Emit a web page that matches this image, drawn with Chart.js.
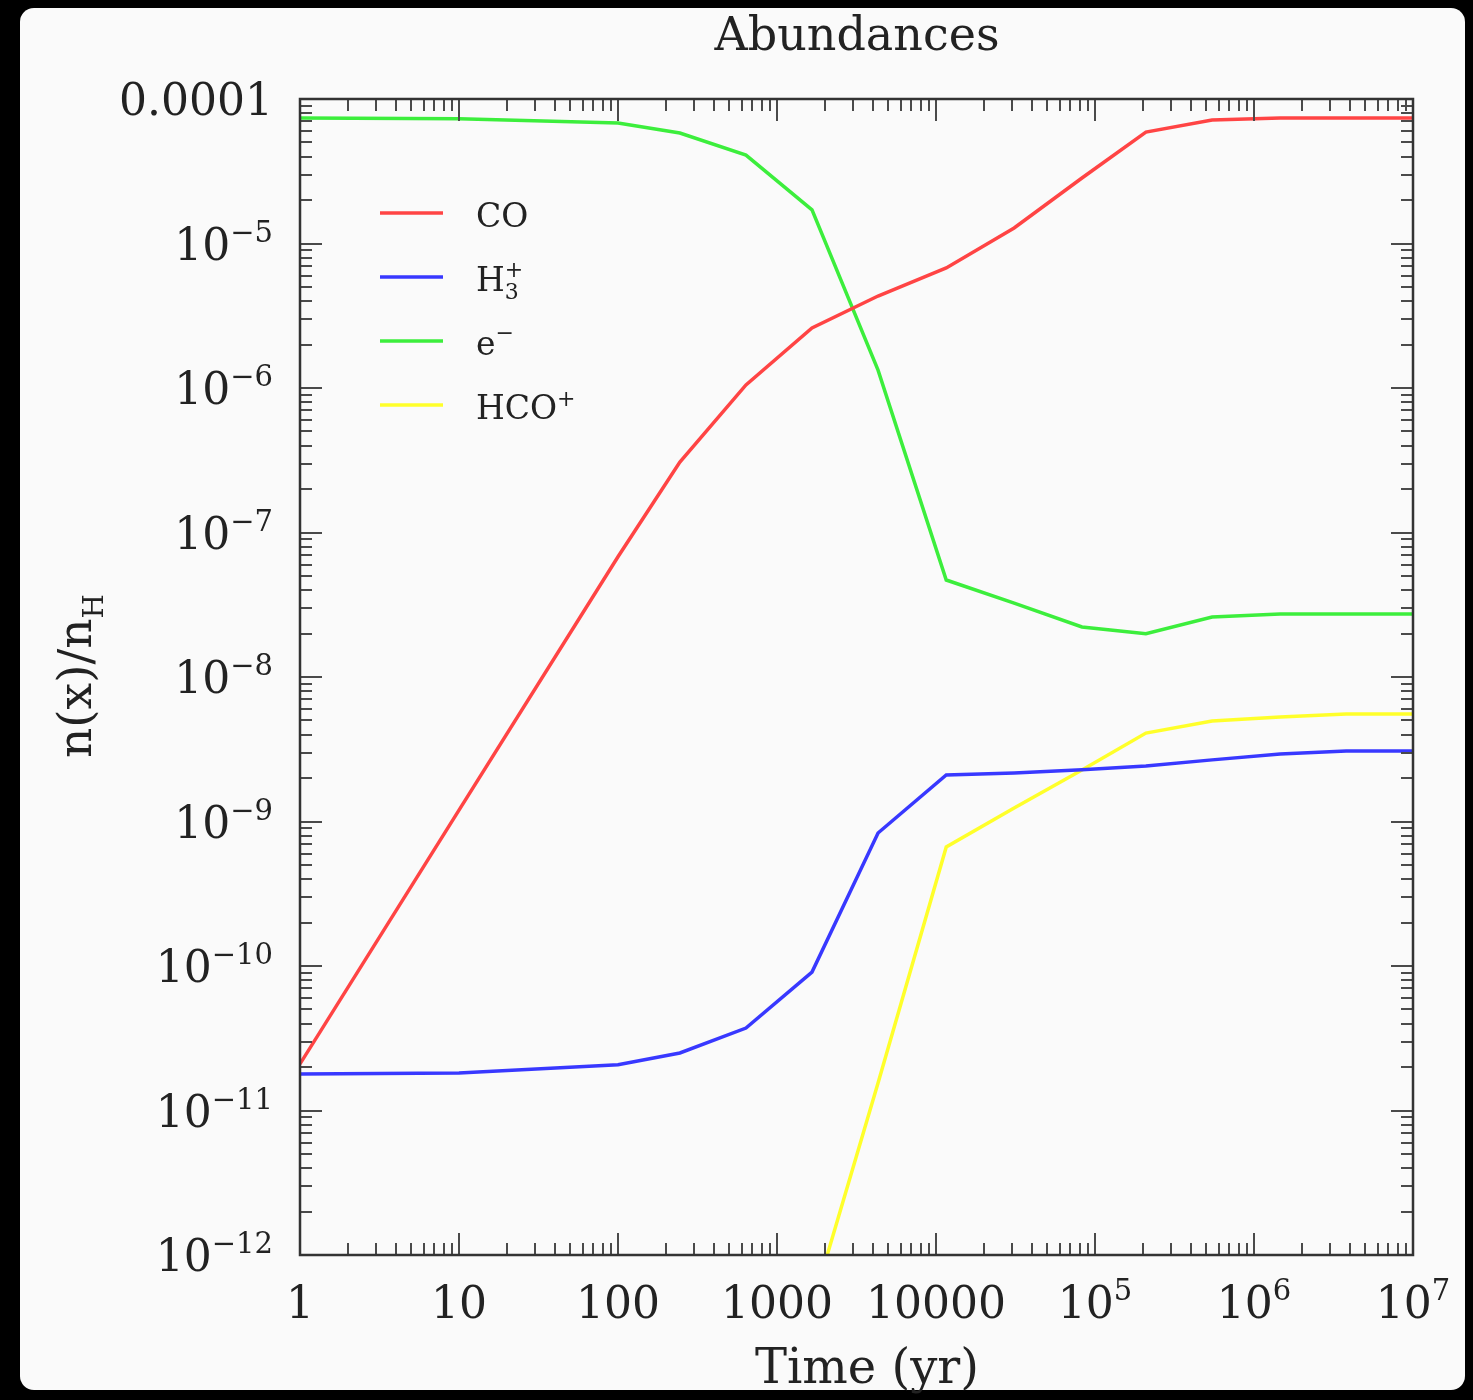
<!DOCTYPE html>
<html>
<head>
<meta charset="utf-8">
<title>Abundances</title>
<script src="https://cdn.jsdelivr.net/npm/chart.js@4.4.1/dist/chart.umd.min.js"></script>
<style>
  html, body { margin: 0; padding: 0; background: #000; }
  canvas { display: block; }
</style>
</head>
<body>
<canvas id="abundChart" width="1473" height="1400"></canvas>
<script>
// time grid (yr) and fractional abundances n(x)/nH
const times = [1, 10, 100, 245, 638, 1660, 4320, 11600, 31000, 82800, 209000, 545000, 1.46e6, 3.8e6, 1e7];
const coAbund = [2.1e-11, 1.2e-9, 6.8e-8, 3.07e-7, 1.05e-6, 2.6e-6, 4.33e-6, 6.77e-6, 1.28e-5, 2.84e-5, 5.9e-5, 7.16e-5, 7.39e-5, 7.39e-5, 7.39e-5];
const h3pAbund = [1.79e-11, 1.82e-11, 2.07e-11, 2.5e-11, 3.72e-11, 9.08e-11, 8.32e-10, 2.1e-9, 2.17e-9, 2.28e-9, 2.42e-9, 2.67e-9, 2.93e-9, 3.08e-9, 3.08e-9];
const elecAbund = [7.4e-5, 7.3e-5, 6.83e-5, 5.82e-5, 4.09e-5, 1.71e-5, 1.33e-6, 4.69e-8, 3.25e-8, 2.22e-8, 1.99e-8, 2.6e-8, 2.73e-8, 2.73e-8, 2.73e-8];
const hcopAbund = [null, null, null, null, null, 4.4e-13, 1.55e-11, 6.67e-10, 1.24e-9, 2.27e-9, 4.09e-9, 4.96e-9, 5.29e-9, 5.55e-9, 5.55e-9];

// axis tick labels: base text + superscript
const xTickValues = [1, 10, 100, 1000, 1e4, 1e5, 1e6, 1e7];
const xTickBases = ['1', '10', '100', '1000', '10000', '10', '10', '10'];
const xTickExps = ['', '', '', '', '', '5', '6', '7'];
const yTickValues = [1e-4, 1e-5, 1e-6, 1e-7, 1e-8, 1e-9, 1e-10, 1e-11, 1e-12];
const yTickBases = ['0.0001', '10', '10', '10', '10', '10', '10', '10', '10'];
const yTickExps = ['', '\u22125', '\u22126', '\u22127', '\u22128', '\u22129', '\u221210', '\u221211', '\u221212'];

const SERIF = '"DejaVu Serif", serif';

// draw a run of text pieces: {t, size, dy, hold} (hold = don't advance x)
function richWidth(ctx, parts) {
    let w = 0, held = 0;
    parts.forEach(p => {
        ctx.font = p.size + 'px ' + SERIF;
        const pw = ctx.measureText(p.t).width;
        if (p.hold) { held = pw; } else { w += Math.max(pw, held); held = 0; }
    });
    return w + held;
}
function drawRich(ctx, parts, x, y, align) {
    const w = richWidth(ctx, parts);
    let cx = align === 'right' ? x - w : align === 'center' ? x - w / 2 : x;
    let held = 0;
    ctx.textAlign = 'left';
    ctx.textBaseline = 'alphabetic';
    parts.forEach(p => {
        ctx.font = p.size + 'px ' + SERIF;
        ctx.fillText(p.t, cx, y + (p.dy || 0));
        const pw = ctx.measureText(p.t).width;
        if (p.hold) { held = pw; } else { cx += Math.max(pw, held); held = 0; }
    });
}
function supParts(base, exp) {
    const parts = [{ t: base, size: 44 }];
    if (exp) parts.push({ t: exp, size: 29, dy: -18 });
    return parts;
}

const legendItems = [
    { color: '#ff4444', parts: [{ t: 'CO', size: 33 }] },
    { color: '#3838ff', parts: [{ t: 'H', size: 33 }, { t: '3', size: 22, dy: 8, hold: true }, { t: '+', size: 22, dy: -14 }] },
    { color: '#3cee3c', parts: [{ t: 'e', size: 33 }, { t: '\u2212', size: 22, dy: -15 }] },
    { color: '#ffff2a', parts: [{ t: 'HCO', size: 33 }, { t: '+', size: 22, dy: -13 }] }
];

const framePlugin = {
    id: 'plotFrame',
    beforeDraw(chart) {
        const ctx = chart.ctx;
        ctx.save();
        ctx.fillStyle = '#000';
        ctx.fillRect(0, 0, chart.width, chart.height);
        ctx.fillStyle = '#fafafa';
        ctx.beginPath();
        ctx.roundRect(20, 8, 1445, 1382, 14);
        ctx.fill();
        ctx.restore();
    },
    afterDatasetsDraw(chart) {
        const { ctx, chartArea: a, scales: { x, y } } = chart;
        ctx.save();

        // inward ticks on all four sides
        ctx.strokeStyle = '#4a4a4a';
        ctx.lineWidth = 2;
        ctx.beginPath();
        for (let d = 0; d <= 7; d++) {
            for (let k = 1; k <= 9; k++) {
                if (d === 7 && k > 1) break;
                const px = Math.round(x.getPixelForValue(k * Math.pow(10, d)));
                const len = k === 1 ? 22 : 12;
                ctx.moveTo(px, a.bottom); ctx.lineTo(px, a.bottom - len);
                ctx.moveTo(px, a.top); ctx.lineTo(px, a.top + len);
            }
        }
        for (let d = -12; d <= -4; d++) {
            for (let k = 1; k <= 9; k++) {
                if (d === -4 && k > 1) break;
                const py = Math.round(y.getPixelForValue(k * Math.pow(10, d)));
                const len = k === 1 ? 22 : 12;
                ctx.moveTo(a.left, py); ctx.lineTo(a.left + len, py);
                ctx.moveTo(a.right, py); ctx.lineTo(a.right - len, py);
            }
        }
        ctx.stroke();

        // frame
        ctx.strokeStyle = '#333';
        ctx.lineWidth = 2.5;
        ctx.strokeRect(a.left, a.top, a.right - a.left, a.bottom - a.top);

        // tick labels
        ctx.fillStyle = '#222';
        xTickValues.forEach((v, i) => {
            drawRich(ctx, supParts(xTickBases[i], xTickExps[i]), x.getPixelForValue(v), a.bottom + 63, 'center');
        });
        yTickValues.forEach((v, i) => {
            drawRich(ctx, supParts(yTickBases[i], yTickExps[i]), a.left - 27, y.getPixelForValue(v) + 16, 'right');
        });

        // titles
        drawRich(ctx, [{ t: 'Abundances', size: 46 }], 857, 50, 'center');
        drawRich(ctx, [{ t: 'Time (yr)', size: 48 }], 867, 1383, 'center');
        ctx.save();
        ctx.translate(91, 676);
        ctx.rotate(-Math.PI / 2);
        drawRich(ctx, [{ t: 'n(x)/n', size: 47 }, { t: 'H', size: 28, dy: 12 }], 0, 0, 'center');
        ctx.restore();

        // legend
        legendItems.forEach((item, i) => {
            const ly = 213 + i * 64;
            ctx.strokeStyle = item.color;
            ctx.lineWidth = 3.5;
            ctx.beginPath();
            ctx.moveTo(380, ly); ctx.lineTo(443, ly);
            ctx.stroke();
            ctx.fillStyle = '#222';
            drawRich(ctx, item.parts, 476, ly + 14, 'left');
        });
        ctx.restore();
    }
};

function series(label, values, color) {
    return {
        label: label,
        data: times.map((t, i) => ({ x: t, y: values[i] })),
        borderColor: color,
        borderWidth: 3.5,
        pointRadius: 0,
        tension: 0,
        fill: false,
        spanGaps: false
    };
}

new Chart(document.getElementById('abundChart').getContext('2d'), {
    type: 'line',
    data: {
        datasets: [
            series('CO', coAbund, '#ff4444'),
            series('H3+', h3pAbund, '#3838ff'),
            series('e-', elecAbund, '#3cee3c'),
            series('HCO+', hcopAbund, '#ffff2a')
        ]
    },
    options: {
        responsive: false,
        animation: false,
        layout: { padding: { left: 300, right: 60, top: 99, bottom: 145 } },
        plugins: { legend: { display: false }, tooltip: { enabled: false }, title: { display: false } },
        scales: {
            x: { type: 'logarithmic', min: 1, max: 1e7, display: false },
            y: { type: 'logarithmic', min: 1e-12, max: 1e-4, display: false }
        }
    },
    plugins: [framePlugin]
});
</script>
</body>
</html>
